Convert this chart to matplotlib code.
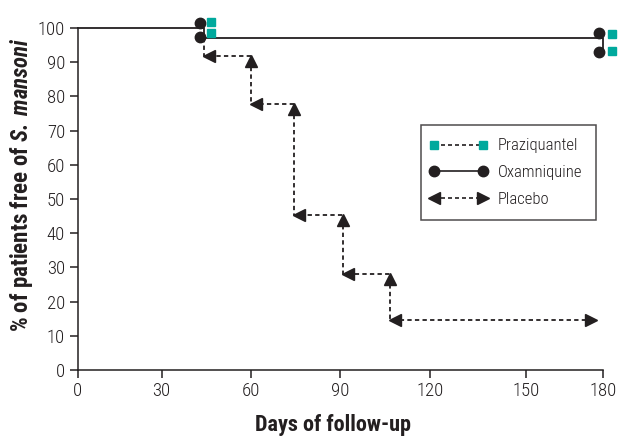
import matplotlib
matplotlib.use("Agg")
import numpy as np
import matplotlib.pyplot as plt
from matplotlib.lines import Line2D
from matplotlib.legend_handler import HandlerBase
from matplotlib.transforms import offset_copy

plt.rcParams["font.family"] = ["Roboto Condensed", "Roboto", "DejaVu Sans"]
plt.rcParams["mathtext.fontset"] = "custom"
plt.rcParams["mathtext.bfit"] = "Roboto Condensed:italic:bold"

INK = "#231f20"
TEAL = "#00a99d"

# Oxamniquine (solid step line)
oxa_days = [0, 44.3, 44.3, 180, 180]
oxa_vals = [100, 100, 97.0, 97.0, 93.6]
oxa_marker_days = [43.0, 43.0, 178.4, 178.4]
oxa_marker_vals = [101.5, 97.4, 98.5, 93.0]

# Praziquantel (markers only, line overlaps oxamniquine)
pzq_marker_days = [46.7, 46.7, 183.3, 183.3]
pzq_marker_vals = [101.8, 98.6, 98.2, 93.3]

# Placebo (dotted step line)
placebo_step_days = [44.3, 60.0, 74.7, 91.0, 106.6]
placebo_levels = [97.0, 91.8, 77.8, 45.3, 28.0, 14.6]
placebo_end_day = 177.2

xticks = [0, 30, 60, 90, 120, 150, 180]
yticks = list(range(0, 101, 10))

# the printed day axis is not evenly spaced: knots of its ruler
ruler_days = [0, 30, 60, 90, 120, 150, 180, 210]
ruler_pos = [77.6, 161.6, 250.7, 339.8, 430.4, 526.2, 603.1, 680.0]


def fwd(x):
    return np.interp(x, ruler_days, ruler_pos)


def inv(p):
    return np.interp(p, ruler_pos, ruler_days)


fig = plt.figure(figsize=(6.18, 4.37), dpi=100)
ax = fig.add_axes([77.6 / 618, 67 / 437, (603.1 - 77.6) / 618, 342 / 437])
ax.set_xscale("function", functions=(fwd, inv))

dots = (0, (2.4, 1.8))

ax.plot(oxa_days, oxa_vals, color=INK, lw=1.3, clip_on=False, zorder=3)
ax.plot(oxa_marker_days, oxa_marker_vals, ls="none", marker="o", ms=7.5,
        color=INK, clip_on=False, zorder=4)
ax.plot(pzq_marker_days, pzq_marker_vals, ls="none", marker="s", ms=6.2,
        color=TEAL, mec=TEAL, clip_on=False, zorder=4)

# placebo step path
px, py = [placebo_step_days[0]], [placebo_levels[0]]
for d, lv in zip(placebo_step_days, placebo_levels[1:]):
    px += [d, d]
    py += [py[-1], lv]
px.append(placebo_end_day)
py.append(placebo_levels[-1])
ax.plot(px, py, color=INK, lw=1.3, ls=dots, clip_on=False, zorder=2)

# placebo markers: up-triangles at end of each level, left-triangles at start of next
up_tr = offset_copy(ax.transData, fig=fig, x=0, y=-3.3, units="points")
left_tr = offset_copy(ax.transData, fig=fig, x=3.5, y=0, units="points")
right_tr = offset_copy(ax.transData, fig=fig, x=-3.5, y=0, units="points")
ax.plot(placebo_step_days[1:], placebo_levels[1:-1], ls="none", marker="^",
        ms=8, color=INK, transform=up_tr, clip_on=False, zorder=3)
ax.plot(placebo_step_days, placebo_levels[1:], ls="none", marker="<",
        ms=8, color=INK, transform=left_tr, clip_on=False, zorder=3)
ax.plot([placebo_end_day], [placebo_levels[-1]], ls="none", marker=">",
        ms=8, color=INK, transform=right_tr, clip_on=False, zorder=3)

ax.set_xlim(0, 180)
ax.set_ylim(0, 100)
ax.set_xticks(xticks)
ax.set_xticklabels([str(t) for t in xticks])
ax.set_yticks(yticks)
ax.xaxis.set_minor_locator(plt.NullLocator())
for s in ["top", "right"]:
    ax.spines[s].set_visible(False)
for s in ["left", "bottom"]:
    ax.spines[s].set_color(INK)
    ax.spines[s].set_linewidth(1.1)
ax.tick_params(direction="out", length=6, width=1.1, color=INK,
               labelsize=13.5, labelcolor=INK, pad=3)
for lab in ax.get_xticklabels() + ax.get_yticklabels():
    lab.set_fontweight("light")

ax.set_xlabel("Days of follow-up", fontsize=16, fontweight="bold", color=INK)
ax.xaxis.set_label_coords(0.486, -0.13)
ax.set_ylabel(r"% of patients free of $\mathbfit{S.\,mansoni}$", fontsize=16.5,
              fontweight="bold", color=INK)
ax.yaxis.set_label_coords(-0.082, 0.541)


class Key:
    def __init__(self, ls, color, m1, m2, ms):
        self.ls, self.color, self.m1, self.m2, self.ms = ls, color, m1, m2, ms


class EndMarkers(HandlerBase):
    def create_artists(self, legend, k, xdescent, ydescent, width, height, fontsize, trans):
        y = height / 2 - ydescent
        x0, x1 = -xdescent, width - xdescent
        arts = [Line2D([x0, x1], [y, y], ls=k.ls, color=INK, lw=1.2)]
        arts.append(Line2D([x0], [y], ls="none", marker=k.m1, ms=k.ms, color=k.color))
        arts.append(Line2D([x1], [y], ls="none", marker=k.m2, ms=k.ms, color=k.color))
        for a in arts:
            a.set_transform(trans)
        return arts


keys = [Key(dots, TEAL, "s", "s", 6.2), Key("-", INK, "o", "o", 7.5),
        Key(dots, INK, "<", ">", 8)]
labels = ["Praziquantel", "Oxamniquine", "Placebo"]
leg = ax.legend(keys, labels, handler_map={Key: EndMarkers()},
                loc="upper left", bbox_to_anchor=(0.6535, 0.716),
                frameon=True, fancybox=False, handlelength=2.9,
                handletextpad=0.9, labelspacing=0.7, borderpad=0.8, borderaxespad=0,
                prop={"weight": "light", "size": 12})
leg.get_frame().set_edgecolor(INK)
leg.get_frame().set_linewidth(1.1)
for t in leg.get_texts():
    t.set_color(INK)

fig.savefig("out.png", dpi=100)
